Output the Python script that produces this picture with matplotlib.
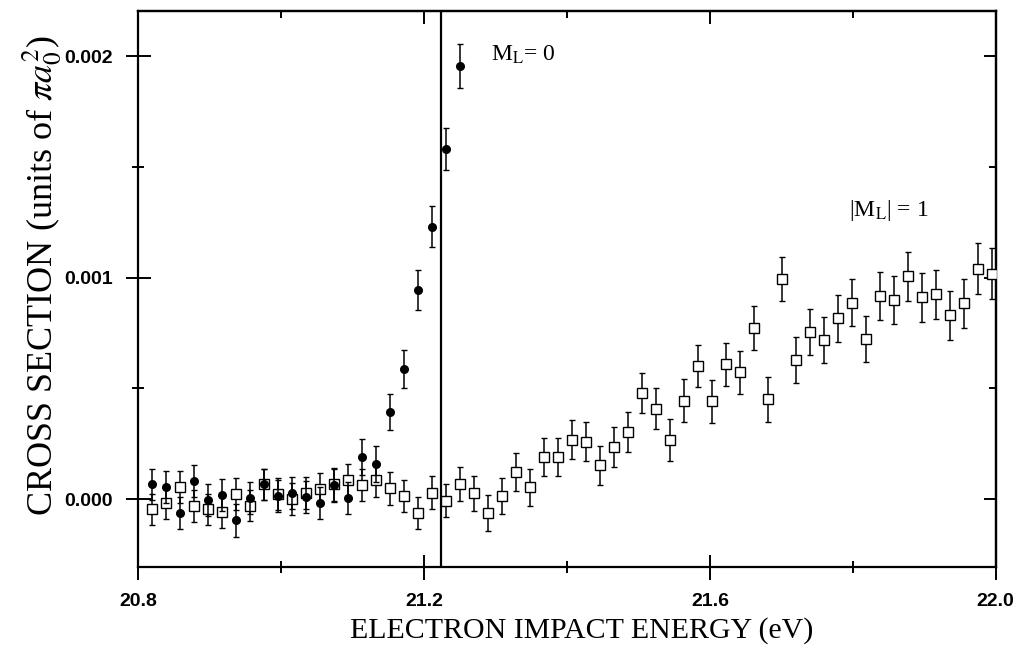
import matplotlib
matplotlib.use("Agg")
import matplotlib.pyplot as plt
from matplotlib.ticker import MultipleLocator, FormatStrFormatter, NullFormatter

plt.rcParams["mathtext.fontset"] = "stix"

# electron impact energy (eV), one entry per measured channel
energy = [
    20.819, 20.839, 20.858, 20.878, 20.897, 20.917, 20.937, 20.956, 20.976, 20.995,
    21.015, 21.035, 21.054, 21.074, 21.093, 21.113, 21.133, 21.152, 21.172, 21.191,
    21.211, 21.231, 21.250, 21.270, 21.289, 21.309, 21.329, 21.348, 21.368, 21.387,
    21.407, 21.427, 21.446, 21.466, 21.485, 21.505, 21.525, 21.544, 21.564, 21.583,
    21.603, 21.623, 21.642, 21.662, 21.681, 21.701, 21.721, 21.740, 21.760, 21.779,
    21.799, 21.819, 21.838, 21.858, 21.877, 21.897, 21.917, 21.936, 21.956, 21.975,
    21.995,
]

# M_L = 0 (filled circles), units of 1e-3 pi a0^2
ml0 = [
    0.066, 0.056, -0.062, 0.081, -0.005, 0.018, -0.095, 0.005, 0.066, 0.015,
    0.029, 0.008, -0.017, 0.062, 0.006, 0.190, 0.158, 0.395, 0.587, 0.944,
    1.230, 1.580, 1.955,
]
ml0_err = [
    0.072, 0.072, 0.072, 0.072, 0.072, 0.072, 0.075, 0.072, 0.072, 0.072,
    0.072, 0.072, 0.072, 0.073, 0.073, 0.080, 0.080, 0.081, 0.085, 0.090,
    0.092, 0.095, 0.100,
]

# |M_L| = 1 (open squares)
ml1 = [
    -0.047, -0.017, 0.056, -0.032, -0.047, -0.059, 0.024, -0.030, 0.066, 0.023,
    -0.001, 0.026, 0.044, 0.066, 0.084, 0.063, 0.084, 0.048, 0.015, -0.063,
    0.029, -0.008, 0.068, 0.026, -0.062, 0.014, 0.122, 0.053, 0.191, 0.191,
    0.268, 0.260, 0.152, 0.234, 0.303, 0.478, 0.408, 0.267, 0.445, 0.601,
    0.441, 0.609, 0.572, 0.774, 0.450, 0.995, 0.628, 0.755, 0.720, 0.816,
    0.887, 0.723, 0.917, 0.899, 1.006, 0.911, 0.925, 0.831, 0.884, 1.041,
    1.018,
]
ml1_err = [
    0.071, 0.071, 0.072, 0.071, 0.071, 0.071, 0.072, 0.071, 0.072, 0.072,
    0.072, 0.072, 0.073, 0.073, 0.074, 0.073, 0.074, 0.073, 0.073, 0.072,
    0.074, 0.075, 0.075, 0.078, 0.081, 0.083, 0.084, 0.084, 0.087, 0.087,
    0.087, 0.089, 0.089, 0.091, 0.090, 0.090, 0.093, 0.094, 0.096, 0.096,
    0.096, 0.098, 0.098, 0.099, 0.102, 0.100, 0.102, 0.105, 0.104, 0.107,
    0.107, 0.106, 0.108, 0.108, 0.109, 0.110, 0.111, 0.111, 0.112, 0.114,
    0.115,
]

threshold = 21.223

scale = 1e-3
fig = plt.figure(figsize=(10.18, 6.49), dpi=100)
ax = fig.add_axes([0.136, 0.1263, 0.842, 0.8568])

ax.errorbar(energy, [v * scale for v in ml1], yerr=[e * scale for e in ml1_err],
            fmt="s", ms=6.5, mfc="white", mec="black", mew=1.0,
            ecolor="black", elinewidth=1.1, capsize=2, capthick=1.0, zorder=3)
n0 = len(ml0)
ax.errorbar(energy[:n0], [v * scale for v in ml0], yerr=[e * scale for e in ml0_err],
            fmt="o", ms=5.5, mfc="black", mec="black",
            ecolor="black", elinewidth=1.1, capsize=2, capthick=1.0, zorder=4)

ax.axvline(threshold, color="black", lw=1.6, zorder=2)

ax.set_xlim(20.8, 22.0)
ax.set_ylim(-0.000307, 0.002205)
ax.xaxis.set_major_locator(MultipleLocator(0.4))
ax.xaxis.set_minor_locator(MultipleLocator(0.2))
ax.yaxis.set_major_locator(MultipleLocator(0.001))
ax.yaxis.set_minor_locator(MultipleLocator(0.0005))
ax.xaxis.set_major_formatter(FormatStrFormatter("%.1f"))
ax.yaxis.set_major_formatter(FormatStrFormatter("%.3f"))

for side in ax.spines.values():
    side.set_linewidth(1.6)

ax.tick_params(axis="both", which="major", direction="inout", length=18, width=1.4,
               labelsize=14)
ax.tick_params(axis="both", which="minor", direction="inout", length=9, width=1.4)
ax.tick_params(axis="x", which="major", pad=9.5)
ax.tick_params(axis="y", which="major", pad=9.4)
for lab in ax.get_xticklabels() + ax.get_yticklabels():
    lab.set_family("Liberation Sans")
    lab.set_fontweight("bold")

# top and right frame ticks point inward only
top = ax.secondary_xaxis("top")
top.xaxis.set_major_locator(MultipleLocator(0.4))
top.xaxis.set_minor_locator(MultipleLocator(0.2))
top.xaxis.set_major_formatter(NullFormatter())
top.tick_params(which="major", direction="in", length=9, width=1.4)
top.tick_params(which="minor", direction="in", length=5, width=1.4)
right = ax.secondary_yaxis("right")
right.yaxis.set_major_locator(MultipleLocator(0.001))
right.yaxis.set_minor_locator(MultipleLocator(0.0005))
right.yaxis.set_major_formatter(NullFormatter())
right.tick_params(which="major", direction="in", length=9, width=1.4)
right.tick_params(which="minor", direction="in", length=5, width=1.4)
for sec in (top, right):
    for side in sec.spines.values():
        side.set_linewidth(1.6)

fig.text(0.571, 0.029, "ELECTRON IMPACT ENERGY (eV)", ha="center", va="center",
         fontsize=21.5, family="Liberation Serif")
fig.text(0.042, 0.575, r"CROSS SECTION (units of $\pi a_0^2$)", ha="center",
         va="center", rotation=90, fontsize=26, family="Liberation Serif")

ax.text(21.293, 0.00198, r"M$_{\rm L}$= 0", fontsize=17, family="Liberation Serif",
        ha="left", va="baseline")
ax.text(21.795, 0.00128, r"|M$_{\rm L}$| = 1", fontsize=17, family="Liberation Serif",
        ha="left", va="baseline")

fig.savefig("out.png", dpi=100)
